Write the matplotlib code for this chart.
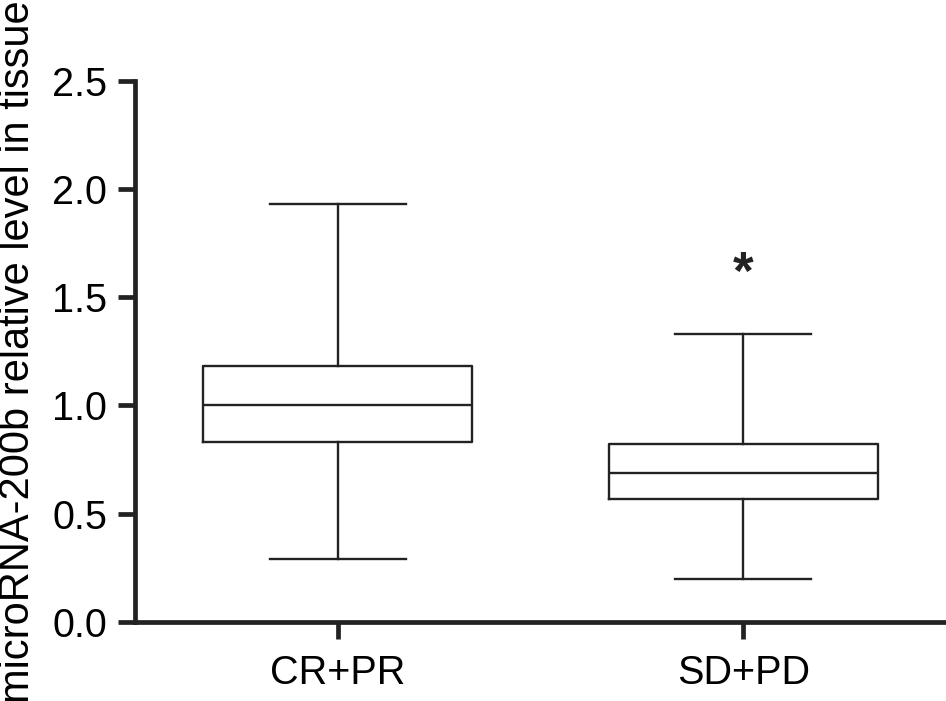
import matplotlib
matplotlib.use("Agg")
import matplotlib.pyplot as plt

# values
groups = ["CR+PR", "SD+PD"]
whisker_low = [0.29, 0.20]
q1 = [0.83, 0.57]
median = [1.00, 0.69]
q3 = [1.18, 0.82]
whisker_high = [1.93, 1.33]
star_y = 1.60

plt.rcParams['font.family'] = ['Liberation Sans', 'DejaVu Sans']

fig = plt.figure(figsize=(9.46, 7.01), dpi=100)
ax = fig.add_axes([135 / 946, 1 - 622 / 701, 811 / 946, (622 - 80.5) / 701])

stats = []
for i in range(len(groups)):
    stats.append({"label": groups[i], "whislo": whisker_low[i], "q1": q1[i],
                  "med": median[i], "q3": q3[i], "whishi": whisker_high[i],
                  "fliers": []})

lc = "#222222"
ax.bxp(stats, positions=[1, 2], widths=0.663, showfliers=False,
       boxprops=dict(color=lc, linewidth=1.7),
       medianprops=dict(color=lc, linewidth=1.7),
       whiskerprops=dict(color=lc, linewidth=1.7),
       capprops=dict(color=lc, linewidth=1.7),
       capwidths=0.335)

ax.text(2, star_y, "*", ha="center", va="center", fontsize=38,
        fontweight="bold", color=lc)

ax.set_xlim(0.5, 2.5)
ax.set_ylim(0, 2.5)
ax.set_yticks([0.0, 0.5, 1.0, 1.5, 2.0, 2.5])
ax.set_yticklabels(["0.0", "0.5", "1.0", "1.5", "2.0", "2.5"])
ax.set_xticks([1, 2])
ax.set_xticklabels(groups)

for s in ["top", "right"]:
    ax.spines[s].set_visible(False)
for s in ["left", "bottom"]:
    ax.spines[s].set_linewidth(3.4)
    ax.spines[s].set_color(lc)
    ax.spines[s].set_capstyle("projecting")

ax.tick_params(axis="both", width=3.4, length=12, color=lc,
               labelsize=28.5, pad=8, labelcolor="black")
ax.tick_params(axis="x", pad=11)

ax.set_ylabel("microRNA-200b relative level in tissue", fontsize=30, labelpad=10)

fig.savefig("out.png", dpi=100)
